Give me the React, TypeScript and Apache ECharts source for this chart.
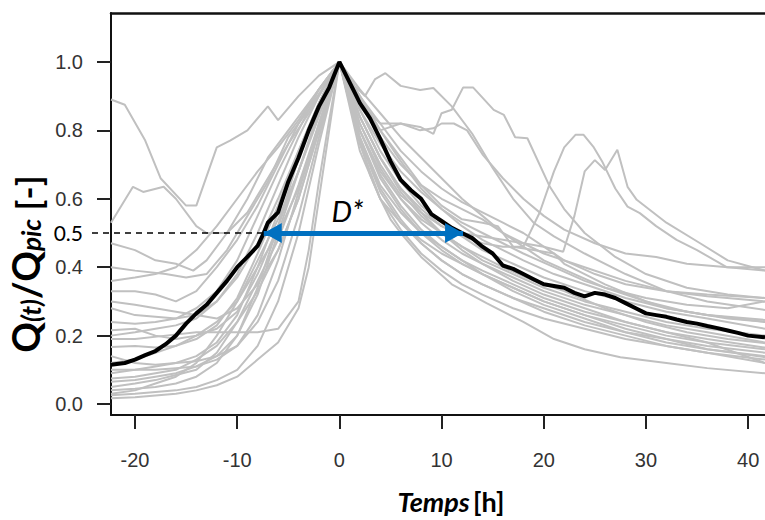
import React, { useEffect, useRef } from "react";
import * as echarts from "echarts";

const X_MIN = -22.35;
const X_MAX = 41.65;
const Y_MIN = -0.032;
const Y_MAX = 1.143;
const X_TICKS = [-20, -10, 0, 10, 20, 30, 40];
const Y_TICKS = [0, 0.2, 0.4, 0.6, 0.8, 1.0];
const Y_LABELS = [0, 0.2, 0.4, 0.5, 0.6, 0.8, 1.0];

const D_LEVEL = 0.5;
const D_START = -7.4;
const D_END = 12.1;
const D_LABEL_POS = [0.8, 0.565];

const meanCurve = [[-22.35,0.115],[-21,0.12],[-20,0.13],[-19,0.143],[-18,0.155],[-17,0.175],[-16,0.2],[-15,0.235],[-14,0.265],[-13,0.29],[-12,0.325],[-11,0.36],[-10,0.4],[-9,0.43],[-8,0.462],[-7.4,0.5],[-7,0.53],[-6,0.56],[-5,0.65],[-4,0.72],[-3,0.8],[-2,0.87],[-1,0.925],[0,1.0],[1,0.94],[2,0.88],[3,0.835],[4,0.775],[5,0.71],[6,0.655],[7,0.625],[8,0.6],[9,0.555],[10,0.535],[11,0.515],[12,0.5],[13,0.485],[14,0.46],[15,0.44],[16,0.405],[17,0.395],[18,0.38],[19,0.365],[20,0.35],[21,0.345],[22,0.34],[23,0.325],[24,0.315],[25,0.325],[26,0.32],[27,0.31],[28,0.295],[29,0.28],[30,0.265],[31,0.26],[32,0.255],[33,0.247],[34,0.24],[35,0.235],[36,0.228],[37,0.222],[38,0.215],[39,0.208],[40,0.2],[41.65,0.195]];

const gray01 = [[-22.35,0.89],[-21,0.875],[-19,0.77],[-17.5,0.66],[-15,0.58],[-14,0.58],[-12,0.75],[-10.7,0.77],[-9,0.8],[-7,0.87],[-6,0.83],[-4,0.9],[-2,0.96],[0,1],[1.5,0.93],[2.5,0.9],[3.5,0.95],[4.5,0.967],[6,0.93],[7.9,0.918],[9.2,0.924],[11,0.87],[13,0.79],[15,0.69],[17,0.6],[19,0.53],[21,0.49],[24,0.44],[28,0.38],[32,0.33],[36,0.3],[41.65,0.275]];
const gray02 = [[-22.35,0.53],[-20.2,0.635],[-19.2,0.62],[-17.2,0.635],[-16,0.6],[-14,0.52],[-13,0.5],[-11,0.5],[-9,0.56],[-7,0.66],[-5,0.76],[-3,0.85],[-1.5,0.93],[0,1],[2,0.87],[4,0.8],[6,0.82],[7.9,0.81],[9.2,0.79],[10,0.85],[11,0.86],[12.1,0.925],[13.1,0.925],[15.1,0.86],[16.1,0.845],[17.2,0.78],[18.4,0.777],[20.6,0.635],[22,0.57],[24,0.5],[27,0.43],[30,0.38],[34,0.34],[38,0.32],[41.65,0.31]];
const gray03 = [[-22.35,0.47],[-20,0.45],[-18,0.42],[-16,0.41],[-14.3,0.39],[-13,0.42],[-11,0.5],[-9,0.6],[-7,0.72],[-5,0.8],[-3,0.88],[0,1],[2,0.84],[4,0.72],[6,0.63],[8,0.57],[10,0.52],[12,0.49],[14,0.47],[16,0.46],[18,0.46],[19.6,0.56],[21,0.68],[22,0.75],[23.1,0.787],[23.9,0.787],[24.9,0.75],[25.7,0.71],[27,0.63],[28.2,0.577],[29.4,0.558],[31,0.52],[33,0.48],[35,0.45],[37.9,0.4],[41.65,0.4]];
const gray04 = [[-22.35,0.4],[-20,0.39],[-17,0.38],[-15,0.37],[-13,0.38],[-11,0.45],[-9,0.55],[-7,0.65],[-5,0.78],[-3,0.86],[0,1],[2,0.82],[4,0.7],[6,0.61],[8,0.56],[10,0.52],[12,0.5],[14,0.49],[16,0.48],[18,0.47],[20,0.46],[21.9,0.445],[23,0.55],[24,0.68],[25,0.713],[26,0.684],[27.2,0.743],[28.2,0.635],[29.1,0.597],[32,0.53],[35.3,0.47],[38,0.42],[41.65,0.39]];
const gray05 = [[-22.35,0.33],[-20,0.33],[-18,0.32],[-16,0.3],[-14,0.33],[-12,0.4],[-10,0.48],[-8,0.58],[-6,0.7],[-4,0.82],[-2,0.92],[0,1],[2,0.88],[4,0.82],[6,0.82],[7.9,0.8],[9.2,0.806],[10,0.82],[11.2,0.82],[12.5,0.8],[14,0.73],[16,0.66],[18,0.6],[20,0.55],[22,0.51],[25,0.47],[28,0.44],[31,0.43],[34,0.41],[38,0.4],[41.65,0.39]];
const gray06 = [[-22.35,0.28],[-20,0.26],[-18,0.255],[-16,0.25],[-14,0.26],[-12,0.3],[-10,0.38],[-8,0.5],[-6,0.64],[-4,0.78],[-2,0.9],[0,1],[2,0.86],[4,0.74],[6,0.65],[8,0.58],[10,0.53],[12,0.49],[14,0.45],[17,0.41],[20,0.37],[24,0.33],[28,0.3],[32,0.27],[36,0.25],[41.65,0.22]];
const gray07 = [[-22.35,0.24],[-20,0.235],[-18,0.24],[-16,0.25],[-14,0.28],[-12,0.33],[-10,0.42],[-8,0.55],[-6,0.68],[-4,0.8],[-2,0.92],[0,1],[2,0.82],[4,0.69],[6,0.6],[8,0.53],[10,0.48],[12,0.44],[14,0.41],[17,0.37],[20,0.33],[24,0.29],[28,0.26],[32,0.23],[36,0.21],[41.65,0.18]];
const gray08 = [[-22.35,0.216],[-20,0.22],[-18,0.2],[-16,0.19],[-14,0.2],[-12,0.22],[-10,0.27],[-8,0.38],[-6,0.52],[-4,0.68],[-2,0.85],[0,1],[2,0.8],[4,0.66],[6,0.57],[8,0.5],[10,0.45],[12,0.41],[14,0.38],[17,0.34],[20,0.3],[24,0.26],[28,0.23],[32,0.2],[36,0.18],[41.65,0.16]];
const gray09 = [[-22.35,0.167],[-20,0.17],[-18,0.165],[-16,0.17],[-14,0.19],[-12,0.23],[-10,0.31],[-8,0.44],[-6,0.58],[-4,0.74],[-2,0.88],[0,1],[2,0.78],[4,0.63],[6,0.54],[8,0.47],[10,0.42],[12,0.38],[14,0.35],[17,0.31],[20,0.28],[24,0.24],[28,0.21],[32,0.19],[36,0.17],[41.65,0.15]];
const gray10 = [[-22.35,0.09],[-20,0.1],[-18,0.11],[-16,0.12],[-14,0.14],[-12,0.18],[-10,0.26],[-8,0.4],[-6,0.56],[-4,0.72],[-2,0.87],[0,1],[2,0.76],[4,0.6],[6,0.51],[8,0.44],[10,0.39],[12,0.35],[14,0.32],[17,0.28],[20,0.25],[24,0.22],[28,0.19],[32,0.17],[36,0.15],[41.65,0.13]];
const gray11 = [[-22.35,0.065],[-20,0.07],[-18,0.08],[-16,0.09],[-14,0.11],[-12,0.14],[-10,0.2],[-8,0.32],[-6,0.5],[-4,0.68],[-2,0.86],[0,1],[1,0.88],[2,0.77],[3,0.67],[4,0.6],[5,0.54],[6,0.5],[8,0.43],[11,0.35],[14.4,0.295],[18,0.24],[21,0.19],[24,0.16],[27.5,0.137],[32,0.12],[36,0.105],[41.65,0.09]];
const gray12 = [[-22.35,0.04],[-20,0.045],[-18,0.05],[-16,0.06],[-14,0.08],[-12,0.12],[-10,0.2],[-8,0.34],[-6,0.52],[-4,0.72],[-2,0.88],[0,1],[2,0.9],[4,0.8],[6,0.72],[8,0.64],[10,0.58],[12,0.54],[14,0.53],[15.5,0.52],[17,0.46],[19,0.45],[21,0.44],[22,0.41],[24,0.38],[26,0.35],[30,0.3],[34,0.27],[38,0.25],[41.65,0.24]];
const gray13 = [[-22.35,0.026],[-20,0.03],[-18,0.035],[-16,0.04],[-14,0.05],[-12,0.07],[-10,0.1],[-8,0.17],[-6,0.3],[-4,0.5],[-2,0.76],[0,1],[2,0.88],[4,0.78],[6,0.7],[8,0.64],[10,0.6],[12,0.57],[14,0.54],[16,0.5],[18,0.46],[20,0.42],[23,0.38],[26,0.34],[30,0.31],[34,0.29],[38,0.28],[41.65,0.3]];
const gray14 = [[-22.35,0.017],[-20,0.02],[-18,0.025],[-16,0.03],[-14,0.04],[-12,0.055],[-10,0.08],[-8,0.13],[-6,0.18],[-4,0.28],[-3,0.4],[-2,0.6],[-1,0.8],[0,1],[2,0.92],[4,0.85],[6,0.78],[8,0.72],[10,0.66],[12,0.6],[14,0.55],[16,0.5],[18,0.47],[20,0.44],[24,0.4],[28,0.36],[32,0.33],[36,0.32],[41.65,0.31]];
const gray15 = [[-22.35,0.12],[-20,0.13],[-18,0.15],[-16,0.17],[-14,0.2],[-12,0.24],[-10,0.3],[-8,0.4],[-6,0.5],[-4,0.63],[-2,0.8],[0,1],[2,0.84],[4,0.72],[6,0.62],[8,0.55],[10,0.5],[12,0.46],[14,0.43],[16,0.4],[19,0.36],[22,0.33],[26,0.28],[30,0.24],[34,0.21],[38,0.19],[41.65,0.178]];
const gray16 = [[-22.35,0.14],[-20,0.12],[-18,0.115],[-16,0.12],[-14,0.125],[-12,0.14],[-10,0.17],[-8,0.26],[-6,0.42],[-4,0.62],[-2,0.82],[0,1],[2,0.8],[4,0.68],[6,0.6],[8,0.54],[10,0.5],[12,0.46],[14,0.42],[17,0.38],[20,0.34],[24,0.3],[28,0.27],[32,0.24],[36,0.22],[41.65,0.2]];
const gray17 = [[-22.35,0.3],[-20,0.29],[-18,0.28],[-16,0.27],[-14,0.26],[-12,0.25],[-10,0.28],[-8,0.35],[-6,0.45],[-4,0.6],[-2,0.8],[0,1],[2,0.74],[4,0.6],[6,0.53],[8,0.48],[10,0.44],[12,0.41],[14,0.38],[17,0.34],[20,0.3],[24,0.26],[28,0.22],[32,0.19],[36,0.16],[41.65,0.14]];
const gray18 = [[-22.35,0.19],[-20,0.19],[-17,0.2],[-14,0.21],[-11,0.21],[-8,0.21],[-6,0.22],[-4,0.3],[-3,0.45],[-2,0.65],[-1,0.83],[0,1],[2,0.86],[4,0.76],[6,0.68],[8,0.62],[10,0.57],[12,0.53],[14,0.5],[16,0.47],[18,0.44],[21,0.4],[24,0.36],[28,0.32],[32,0.28],[36,0.26],[41.65,0.246]];
const gray19 = [[-22.35,0.36],[-20,0.37],[-18,0.38],[-16,0.4],[-14,0.45],[-12,0.52],[-10,0.6],[-8,0.68],[-6,0.75],[-4,0.83],[-2,0.92],[0,1],[2,0.9],[4,0.82],[6,0.74],[8,0.68],[10,0.63],[12,0.59],[14,0.56],[16,0.53],[18,0.5],[20,0.46],[22,0.42],[25,0.38],[28,0.35],[32,0.33],[36,0.315],[41.65,0.3]];
const gray20 = [[-22.35,0.05],[-20,0.06],[-18,0.07],[-16,0.085],[-14,0.1],[-12,0.15],[-10,0.24],[-8,0.36],[-6,0.48],[-4,0.64],[-2,0.82],[0,1],[2,0.78],[4,0.64],[6,0.56],[8,0.5],[10,0.46],[12,0.42],[14,0.39],[17,0.35],[20,0.31],[24,0.27],[28,0.24],[32,0.21],[36,0.18],[41.65,0.12]];
const gray21 = [[-22.35,0.1],[-20,0.1],[-18,0.1],[-16,0.105],[-14,0.11],[-12,0.13],[-10,0.17],[-8,0.24],[-6,0.36],[-4,0.55],[-2,0.78],[0,1],[1,0.92],[2,0.84],[4,0.72],[6,0.63],[8,0.56],[10,0.5],[12,0.45],[14,0.41],[17,0.36],[20,0.32],[24,0.28],[28,0.24],[32,0.21],[36,0.19],[41.65,0.165]];
const gray22 = [[-22.35,0.075],[-20,0.08],[-18,0.09],[-16,0.1],[-14,0.13],[-12,0.17],[-10,0.24],[-8,0.33],[-6,0.45],[-4,0.6],[-2,0.8],[0,1],[2,0.8],[4,0.67],[6,0.58],[8,0.51],[10,0.46],[12,0.42],[14,0.38],[17,0.33],[20,0.29],[24,0.25],[28,0.21],[32,0.18],[36,0.16],[41.65,0.137]];
const gray23 = [[-22.35,0.2],[-20,0.21],[-18,0.22],[-16,0.23],[-14,0.25],[-12,0.3],[-10,0.37],[-8,0.47],[-6,0.6],[-4,0.74],[-2,0.88],[0,1],[2,0.9],[4,0.8],[6,0.71],[8,0.63],[10,0.57],[12,0.52],[14,0.48],[16,0.45],[18,0.42],[21,0.38],[24,0.35],[28,0.31],[32,0.28],[36,0.26],[41.65,0.24]];
const gray24 = [[-22.35,0.03],[-20,0.04],[-18,0.06],[-16,0.08],[-14,0.12],[-12,0.2],[-10,0.3],[-8,0.42],[-6,0.54],[-4,0.68],[-2,0.84],[0,1],[2,0.77],[4,0.62],[6,0.53],[8,0.47],[10,0.42],[12,0.38],[14,0.35],[17,0.31],[20,0.27],[24,0.23],[28,0.2],[32,0.17],[36,0.15],[41.65,0.12]];

const grayCurves = [gray01, gray02, gray03, gray04, gray05, gray06, gray07, gray08, gray09, gray10, gray11, gray12, gray13, gray14, gray15, gray16, gray17, gray18, gray19, gray20, gray21, gray22, gray23, gray24];

const W = 765;
const H = 520;

export default function App() {
  const ref = useRef<HTMLDivElement>(null);
  useEffect(() => {
    if (!ref.current) return;
    const chart = echarts.init(ref.current, null, { renderer: "svg" });
    const GRID_LEFT = 111;
    const option: any = {
      animation: false,
      backgroundColor: "#ffffff",
      grid: { left: GRID_LEFT, top: 13, right: 0, bottom: 105, outerBoundsMode: "none" },
      xAxis: [
        {
          type: "value",
          min: X_MIN,
          max: X_MAX,
          position: "bottom",
          axisLine: { show: true, onZero: false, lineStyle: { color: "#111", width: 2 } },
          axisTick: { show: true, customValues: X_TICKS, length: 14, lineStyle: { color: "#222", width: 2 } },
          axisLabel: {
            show: true,
            customValues: X_TICKS,
            margin: 35,
            color: "#333",
            fontFamily: "Liberation Sans",
            fontSize: 20,
            formatter: (v: number) => String(v),
          },
          splitLine: { show: false },
        },
        {
          type: "value",
          min: X_MIN,
          max: X_MAX,
          position: "top",
          axisLine: { show: true, onZero: false, lineStyle: { color: "#111", width: 2.5 } },
          axisTick: { show: false },
          axisLabel: { show: false },
          splitLine: { show: false },
        },
      ],
      yAxis: {
        type: "value",
        min: Y_MIN,
        max: Y_MAX,
        axisLine: { show: true, onZero: false, lineStyle: { color: "#111", width: 2 } },
        axisTick: { show: true, customValues: Y_TICKS, length: 14, lineStyle: { color: "#222", width: 2 } },
        axisLabel: {
          show: true,
          customValues: Y_LABELS,
          margin: 28,
          color: "#333",
          fontFamily: "Liberation Sans",
          fontSize: 20,
          formatter: (v: number) => (Math.abs(v - 0.5) < 1e-9 ? "{h|0.5}" : v.toFixed(1)),
          rich: { h: { color: "#000", fontFamily: "Lato", fontSize: 21 } },
        },
        splitLine: { show: false },
      },
      series: [
        ...grayCurves.map((c, i) => ({
          name: "g" + i,
          type: "line",
          data: c,
          showSymbol: false,
          symbol: "none",
          silent: true,
          clip: true,
          z: 2,
          lineStyle: { color: "#c0c0c0", width: 2 },
        })),
        {
          name: "mean",
          type: "line",
          data: meanCurve,
          showSymbol: false,
          symbol: "none",
          silent: true,
          clip: true,
          z: 4,
          lineStyle: { color: "#000", width: 4 },
          markLine: {
            silent: true,
            symbol: ["triangle", "triangle"],
            symbolSize: [20, 18],
            symbolOffset: [[0, 9], [0, 9]],
            label: { show: false },
            lineStyle: { color: "#0070C0", width: 5, type: "solid" },
            emphasis: { disabled: true },
            data: [[{ coord: [D_START, D_LEVEL] }, { coord: [D_END, D_LEVEL] }]],
          },
        },
      ],
    };
    chart.setOption(option);

    const pStart = chart.convertToPixel({ gridIndex: 0 }, [D_START, D_LEVEL]) as number[];
    const pLabel = chart.convertToPixel({ gridIndex: 0 }, D_LABEL_POS) as number[];

    chart.setOption({
      graphic: [
        {
          type: "line",
          silent: true,
          z: 10,
          shape: { x1: GRID_LEFT - 19, y1: pStart[1], x2: pStart[0], y2: pStart[1] },
          style: { stroke: "#000", lineWidth: 1.5, lineDash: [6, 5] },
        },
        {
          type: "text",
          silent: true,
          z: 10,
          x: pLabel[0],
          y: pLabel[1],
          style: {
            text: "D*",
            fontFamily: "Lato",
            fontStyle: "italic",
            fontSize: 29,
            fill: "#000",
            align: "center",
            verticalAlign: "middle",
          },
        },
        {
          type: "text",
          silent: true,
          x: 451,
          y: 501,
          style: {
            text: "{i|Temps} {b|[h]}",
            align: "center",
            verticalAlign: "middle",
            rich: {
              i: { fontFamily: "Lato", fontWeight: "bold", fontStyle: "italic", fontSize: 27, lineHeight: 30, fill: "#000" },
              b: { fontFamily: "Lato", fontWeight: "bold", fontSize: 27, lineHeight: 30, fill: "#000" },
            },
          },
        },
        {
          type: "text",
          silent: true,
          x: 22,
          y: 264,
          rotation: Math.PI / 2,
          style: {
            text: "{q|Q}{s|(t)}{q|/Q}{s|pic}{b| [-]}",
            align: "center",
            verticalAlign: "middle",
            rich: {
              q: { fontFamily: "Lato", fontWeight: "bold", fontSize: 38, lineHeight: 44, fill: "#000", verticalAlign: "bottom" },
              s: { fontFamily: "Lato", fontWeight: "bold", fontStyle: "italic", fontSize: 26, lineHeight: 26, fill: "#000", verticalAlign: "bottom" },
              b: { fontFamily: "Lato", fontWeight: "bold", fontSize: 35, lineHeight: 44, fill: "#000", verticalAlign: "bottom" },
            },
          },
        },
      ],
    });

    return () => chart.dispose();
  }, []);

  return (
    <div
      ref={ref}
      style={{ position: "fixed", left: 0, top: 0, width: W, height: H, background: "#fff" }}
    />
  );
}
